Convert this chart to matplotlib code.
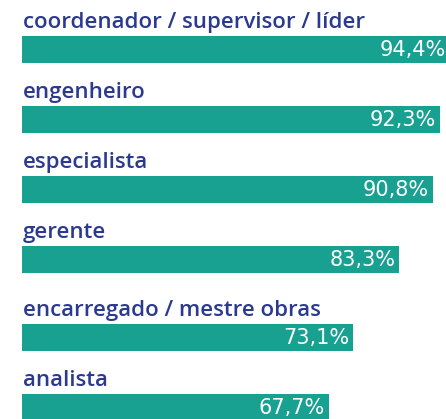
import matplotlib
matplotlib.use("Agg")
import matplotlib.pyplot as plt

# dados
cargos = ["coordenador / supervisor / líder", "engenheiro", "especialista",
          "gerente", "encarregado / mestre obras", "analista"]
valores = [94.4, 92.3, 90.8, 83.3, 73.1, 67.7]
rotulos = ["94,4%", "92,3%", "90,8%", "83,3%", "73,1%", "67,7%"]

cor_barra = "#18a090"
cor_texto = "#2b3a8f"

plt.rcParams['font.family'] = ['Open Sans', 'DejaVu Sans']

fig = plt.figure(figsize=(4.46, 4.19), dpi=100)
ax = fig.add_axes([0, 0, 1, 1])

# layout em pixels: passo de 70 px, um pouco mais de folga antes do 5o item
passo = 70
altura = 27
topos = []
for i in range(len(cargos)):
    extra = 8 if i >= 4 else 0
    topos.append(36 + i * passo + extra)
centros = [t + altura / 2 for t in topos]

ax.barh(centros, valores, height=altura, left=0, color=cor_barra)

for c, v, cargo, rot in zip(centros, valores, cargos, rotulos):
    ax.text(0.2, c - altura / 2 - 8, cargo, color=cor_texto, fontsize=16,
            fontweight='semibold', ha='left', va='baseline')
    ax.text(v - 0.9, c + 6.5, rot, color='white', fontsize=15,
            family='DejaVu Sans', ha='right', va='baseline')

escala = 4.53  # px por ponto percentual
ax.set_xlim(-22 / escala, (446 - 22) / escala)
ax.set_ylim(419, 0)
ax.axis('off')

fig.savefig("out.png", dpi=100)
